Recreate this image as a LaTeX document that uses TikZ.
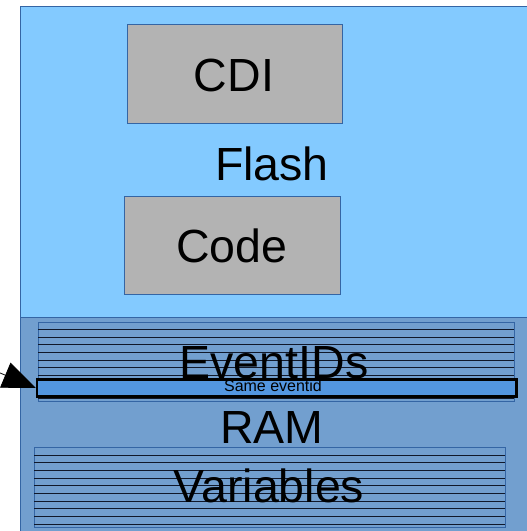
\documentclass[tikz,border=0pt]{standalone}
\usepackage{fontspec}
\setmainfont{Liberation Sans}
\usetikzlibrary{arrows.meta}
\definecolor{flashblue}{HTML}{83CAFF}
\definecolor{ramblue}{HTML}{729FCF}
\definecolor{edgeblue}{HTML}{3465A4}
\definecolor{boxgray}{HTML}{B3B3B3}
\definecolor{barblue}{HTML}{5396E0}
\definecolor{stripecol}{HTML}{10182A}
\tikzset{
  region/.style={draw=edgeblue, line width=0.8pt, anchor=north west, inner sep=0pt},
  graybox/.style={draw=edgeblue, fill=boxgray, line width=0.8pt, anchor=north west, inner sep=0pt},
  stripebox/.style={draw=edgeblue, line width=0.8pt, anchor=north west, inner sep=0pt},
  stripe/.style={draw=stripecol, line width=1.2pt},
  bigtext/.style={anchor=base, inner sep=0pt, font=\fontsize{46.5}{50}\selectfont},
  smalltext/.style={anchor=base, inner sep=0pt, font=\fontsize{16}{18}\selectfont, text=black},
  barbox/.style={draw=black, fill=barblue, line width=2.5pt, anchor=north west, inner sep=0pt},
}
\begin{document}
\begin{tikzpicture}[x=1pt,y=-1pt]
\useasboundingbox (0,0) rectangle (527,531);
\fill[white] (0,0) rectangle (527,531);
% regions
\node[region, fill=flashblue, minimum width=540pt, minimum height=311pt] (flash) at (20,6) {};
\node[region, fill=ramblue, minimum width=540pt, minimum height=240pt] (ram) at (20,317) {};
% flash content
\node[graybox, minimum width=215pt, minimum height=99pt] (cdi) at (127,24) {};
\node[graybox, minimum width=216pt, minimum height=98pt] (code) at (124,196) {};
\node[bigtext] (cditext) at (234,91) {CDI};
\node[bigtext] (flashtext) at (272,180) {Flash};
\node[bigtext] (codetext) at (232,262) {Code};
% ram content
\node[stripebox, minimum width=475.7pt, minimum height=79.3pt] (events) at (38.3,321.7) {};
\foreach \y in {329.5,337.5,344.5,352.5,360.5,367.5,375.5,383.5,390.5,398.5}
  \draw[stripe] (38.3,\y) -- (514,\y);
\node[stripebox, minimum width=471pt, minimum height=79.7pt] (vars) at (34,447.3) {};
\foreach \y in {455.5,462.5,470.5,478.5,485.5,493.5,501.5,508.5,516.5,524.5}
  \draw[stripe] (34,\y) -- (505,\y);
\node[bigtext] (eventstext) at (274,378) {EventIDs};
\node[bigtext] (ramtext) at (272,443) {RAM};
\node[bigtext] (varstext) at (269,502.7) {Variables};
% highlighted entry
\node[barbox, minimum width=479.3pt, minimum height=16.7pt] (same) at (35.7,378.3) {};
\node[smalltext] (sametext) at (273,391.7) {Same eventid};
% arrow
\coordinate (src) at (-50,352);
\draw[line width=0.8pt, -{Triangle[length=33pt,width=27pt]}] (src) -- (same.west);
\end{tikzpicture}
\end{document}
